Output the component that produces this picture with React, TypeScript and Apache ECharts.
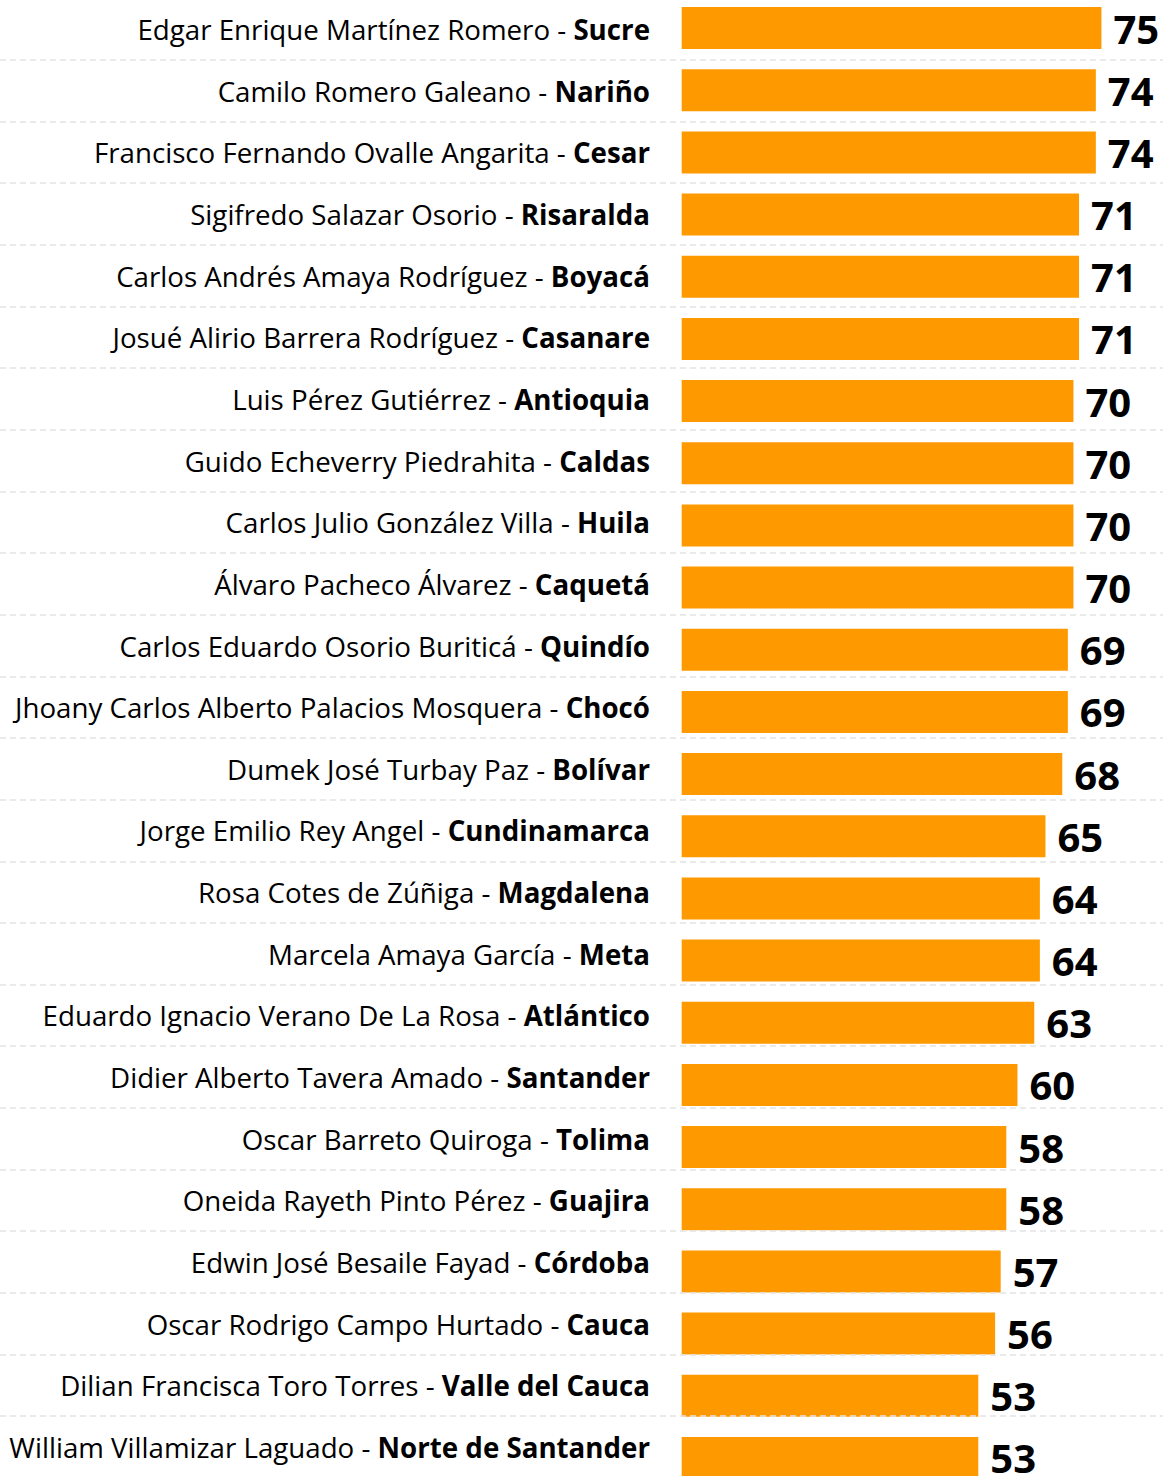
import React, { useEffect, useRef } from "react";
import * as echarts from "echarts";

const names = [
  "Edgar Enrique Martínez Romero",
  "Camilo Romero Galeano",
  "Francisco Fernando Ovalle Angarita",
  "Sigifredo Salazar Osorio",
  "Carlos Andrés Amaya Rodríguez",
  "Josué Alirio Barrera Rodríguez",
  "Luis Pérez Gutiérrez",
  "Guido Echeverry Piedrahita",
  "Carlos Julio González Villa",
  "Álvaro Pacheco Álvarez",
  "Carlos Eduardo Osorio Buriticá",
  "Jhoany Carlos Alberto Palacios Mosquera",
  "Dumek José Turbay Paz",
  "Jorge Emilio Rey Angel",
  "Rosa Cotes de Zúñiga",
  "Marcela Amaya García",
  "Eduardo Ignacio Verano De La Rosa",
  "Didier Alberto Tavera Amado",
  "Oscar Barreto Quiroga",
  "Oneida Rayeth Pinto Pérez",
  "Edwin José Besaile Fayad",
  "Oscar Rodrigo Campo Hurtado",
  "Dilian Francisca Toro Torres",
  "William Villamizar Laguado",
];

const states = [
  "Sucre",
  "Nariño",
  "Cesar",
  "Risaralda",
  "Boyacá",
  "Casanare",
  "Antioquia",
  "Caldas",
  "Huila",
  "Caquetá",
  "Quindío",
  "Chocó",
  "Bolívar",
  "Cundinamarca",
  "Magdalena",
  "Meta",
  "Atlántico",
  "Santander",
  "Tolima",
  "Guajira",
  "Córdoba",
  "Cauca",
  "Valle del Cauca",
  "Norte de Santander",
];

const values = [75, 74, 74, 71, 71, 71, 70, 70, 70, 70, 69, 69, 68, 65, 64, 64, 63, 60, 58, 58, 57, 56, 53, 53];

const categories = names.map((n, i) => n + " - " + states[i]);

export default function App() {
  const ref = useRef<HTMLDivElement>(null);
  useEffect(() => {
    document.body.style.margin = "0";
    document.body.style.overflow = "hidden";
    if (!ref.current) return;
    const chart = echarts.init(ref.current, null, { renderer: "svg" });
    const font = "'Open Sans', sans-serif";
    chart.setOption({
      animation: false,
      grid: [
        { left: 0, right: 0, top: 0, bottom: 0, containLabel: false },
        { left: 0, right: 0, top: 1.2, height: 1479.6, containLabel: false },
      ],
      xAxis: [
        {
          type: "value",
          gridIndex: 0,
          min: -121.8,
          max: 86,
          show: false,
          splitLine: { show: false },
        },
        {
          type: "value",
          gridIndex: 1,
          min: 0,
          max: 1,
          show: false,
          splitLine: { show: false },
        },
      ],
      yAxis: [
        {
          type: "category",
          gridIndex: 0,
          inverse: true,
          data: categories,
          axisLine: { show: false },
          axisTick: { show: false },
          axisLabel: { show: false },
          splitLine: { show: false },
        },
        {
          type: "category",
          gridIndex: 1,
          inverse: true,
          position: "right",
          data: categories,
          z: 3,
          axisLine: { show: false },
          axisTick: { show: false },
          axisLabel: {
            show: true,
            inside: true,
            margin: 513,
            interval: 0,
            formatter: (_v: string, i: number) =>
              "{n|" + names[i] + " - }{s|" + states[i] + "}",
            rich: {
              n: { fontFamily: font, fontSize: 27.7, color: "#000" },
              s: { fontFamily: font, fontSize: 27.7, color: "#000", fontWeight: "bold" },
            },
          },
          splitLine: {
            show: true,
            interval: 0,
            lineStyle: { color: "#e3e3e3", type: [6, 4], width: 1.5 },
          },
        },
      ],
      series: [
        {
          type: "bar",
          xAxisIndex: 0,
          yAxisIndex: 0,
          data: values,
          barWidth: 42,
          itemStyle: { color: "#ff9900" },
          label: {
            show: true,
            position: "right",
            distance: 12,
            color: "#000",
            fontFamily: font,
            fontWeight: "bold",
            fontSize: 40,
            formatter: (p: any) => String(p.value),
          },
          z: 2,
        },
      ],
    });
    return () => chart.dispose();
  }, []);
  return (
    <div
      ref={ref}
      style={{ position: "absolute", left: 0, top: -3, width: 1163, height: 1492 }}
    />
  );
}
